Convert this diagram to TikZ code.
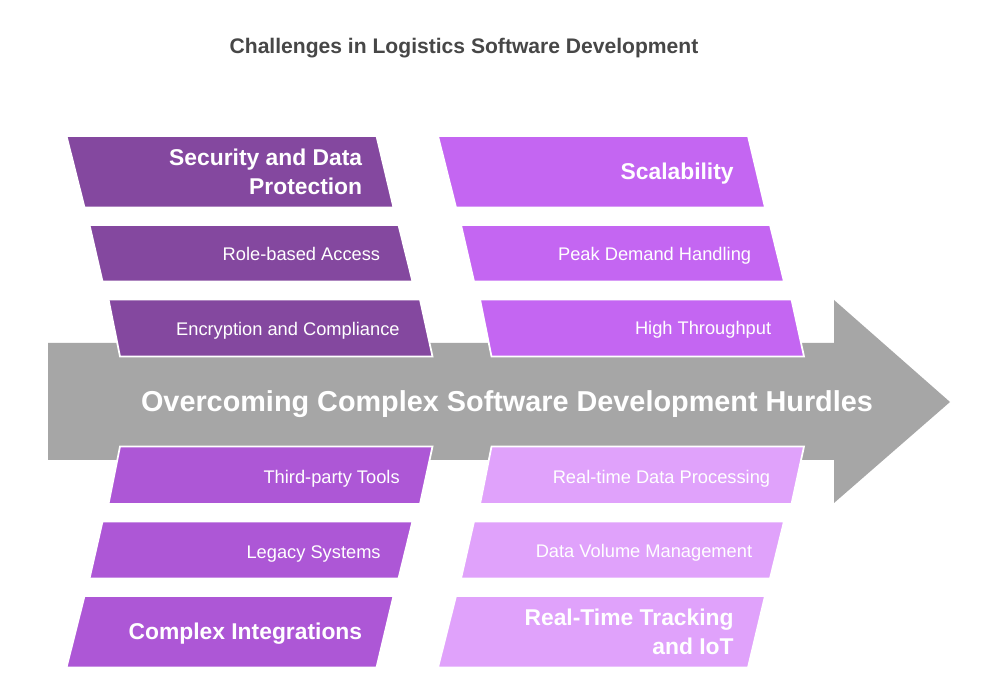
\documentclass[tikz,border=0pt]{standalone}
\usepackage{fontspec}
\setmainfont{Liberation Sans}
\usepackage{xcolor}
\usepackage{tikz}

\definecolor{roxoEscuro}{HTML}{84489F}
\definecolor{violeta}{HTML}{C466F2}
\definecolor{roxoMedio}{HTML}{AD57D6}
\definecolor{lilas}{HTML}{E0A2FB}
\definecolor{cinza}{HTML}{A6A6A6}
\definecolor{cinzaTitulo}{HTML}{474747}

\begin{document}
\begin{tikzpicture}[
  caixa/.style={draw=white, line width=1pt},
  item/.style={anchor=east, inner sep=0pt, text=white, font=\fontsize{10.4}{12}\selectfont, text height=1.5ex, text depth=.25ex},
  tema/.style={anchor=east, inner sep=0pt, text=white, font=\fontsize{13}{16.4}\selectfont\bfseries}
]

% Área da figura
\useasboundingbox[fill=white] (0,0) rectangle (20,14);

% Título
\node[anchor=base, text=cinzaTitulo, font=\fontsize{12}{14}\selectfont\bfseries] (titulo) at (9.28,12.93) {Challenges in Logistics Software Development};

% Seta central
\draw[fill=cinza, draw=none] (0.96,7.14) -- (16.68,7.14) -- (16.68,8.0) -- (19.0,5.96) -- (16.68,3.94) -- (16.68,4.8) -- (0.96,4.8) -- cycle;
\node[anchor=base, text=white, font=\fontsize{16.4}{19}\selectfont\bfseries] (seta) at (10.14,5.76) {Overcoming Complex Software Development Hurdles};

% Segurança (acima, esquerda)
\draw[caixa, fill=roxoEscuro] (1.33,11.28) -- (7.53,11.28) -- (7.87,9.85) -- (1.69,9.85) -- cycle;
\node[tema, align=right] (seguranca) at (7.25,10.56) {Security and Data\\Protection};
\draw[caixa, fill=roxoEscuro] (1.79,9.5) -- (7.97,9.5) -- (8.25,8.37) -- (2.05,8.37) -- cycle;
\node[item] (acesso) at (7.61,8.90) {Role-based Access};
\draw[caixa, fill=roxoEscuro] (2.17,8.01) -- (8.40,8.01) -- (8.65,6.87) -- (2.40,6.87) -- cycle;
\node[item] (criptografia) at (8.0,7.41) {Encryption and Compliance};

% Escalabilidade (acima, direita)
\draw[caixa, fill=violeta] (8.76,11.28) -- (14.96,11.28) -- (15.30,9.85) -- (9.12,9.85) -- cycle;
\node[tema, text height=1.5ex, text depth=.25ex] (escala) at (14.68,10.52) {Scalability};
\draw[caixa, fill=violeta] (9.22,9.5) -- (15.40,9.5) -- (15.68,8.37) -- (9.48,8.37) -- cycle;
\node[item] (pico) at (15.03,8.90) {Peak Demand Handling};
\draw[caixa, fill=violeta] (9.60,8.01) -- (15.83,8.01) -- (16.08,6.87) -- (9.83,6.87) -- cycle;
\node[item] (vazao) at (15.43,7.42) {High Throughput};

% Integrações (abaixo, esquerda)
\draw[caixa, fill=roxoMedio] (2.40,5.07) -- (8.65,5.07) -- (8.40,3.92) -- (2.17,3.92) -- cycle;
\node[item] (terceiros) at (8.0,4.45) {Third-party Tools};
\draw[caixa, fill=roxoMedio] (2.05,3.57) -- (8.25,3.57) -- (7.97,2.43) -- (1.79,2.43) -- cycle;
\node[item] (legado) at (7.62,2.95) {Legacy Systems};
\draw[caixa, fill=roxoMedio] (1.69,2.08) -- (7.87,2.08) -- (7.53,0.65) -- (1.33,0.65) -- cycle;
\node[tema, text height=1.5ex, text depth=.25ex] (integracoes) at (7.25,1.33) {Complex Integrations};

% Rastreamento (abaixo, direita)
\draw[caixa, fill=lilas] (9.83,5.07) -- (16.08,5.07) -- (15.83,3.92) -- (9.60,3.92) -- cycle;
\node[item] (tempoReal) at (15.41,4.44) {Real-time Data Processing};
\draw[caixa, fill=lilas] (9.48,3.57) -- (15.68,3.57) -- (15.40,2.43) -- (9.22,2.43) -- cycle;
\node[item] (volume) at (15.05,2.96) {Data Volume Management};
\draw[caixa, fill=lilas] (9.12,2.08) -- (15.30,2.08) -- (14.96,0.65) -- (8.76,0.65) -- cycle;
\node[tema, align=right] (rastreio) at (14.68,1.37) {Real-Time Tracking\\and IoT};

\end{tikzpicture}
\end{document}
